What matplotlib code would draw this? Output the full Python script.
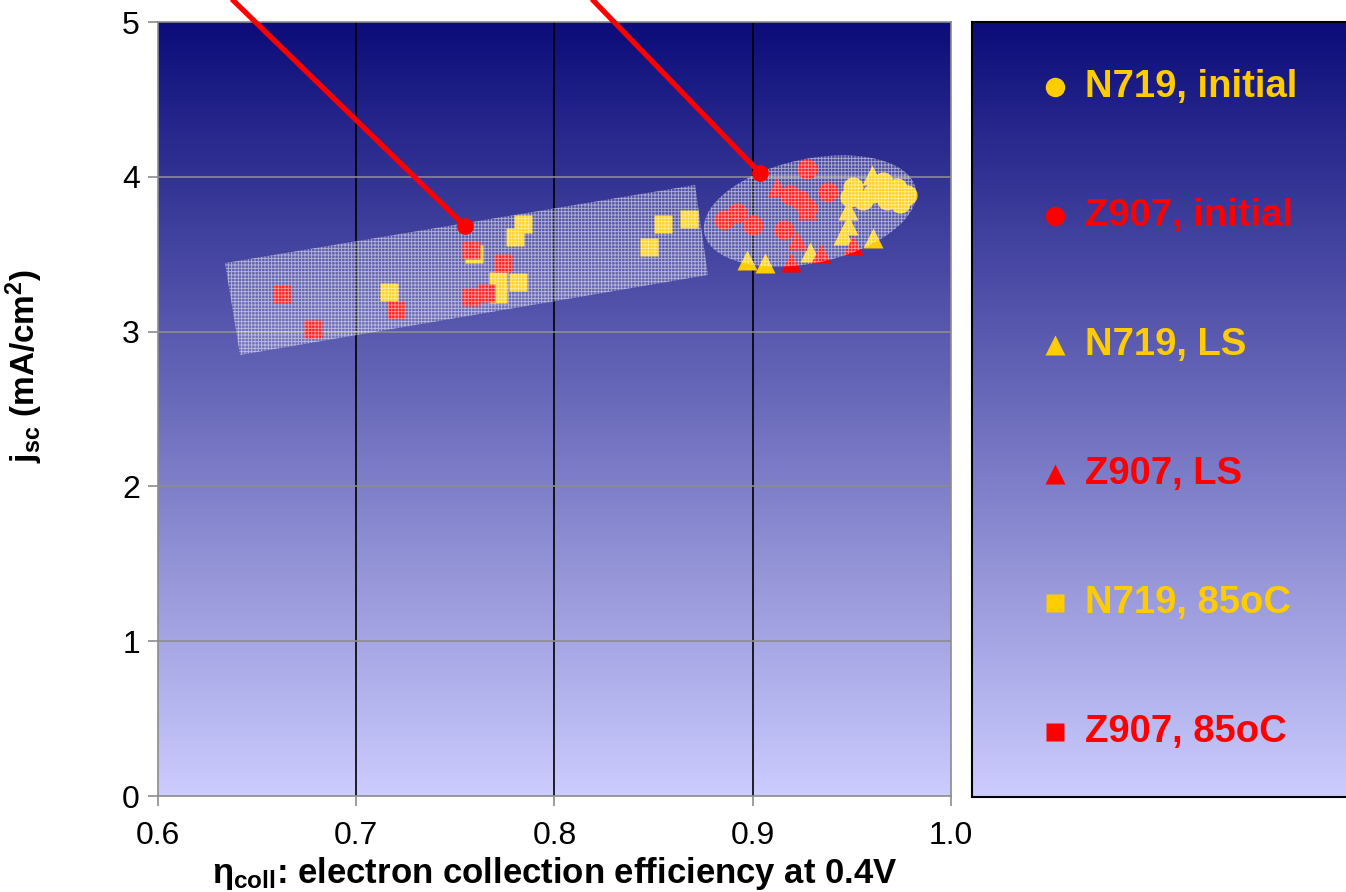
import numpy as np
import matplotlib
matplotlib.use('Agg')
import matplotlib.pyplot as plt
from matplotlib.patches import Polygon
from matplotlib.colors import LinearSegmentedColormap

plt.rcParams['font.family'] = ['Liberation Sans', 'DejaVu Sans']
plt.rcParams['mathtext.fontset'] = 'custom'
plt.rcParams['mathtext.rm'] = 'Liberation Sans:bold'
plt.rcParams['mathtext.it'] = 'Liberation Sans:bold'
plt.rcParams['mathtext.bf'] = 'Liberation Sans:bold'
plt.rcParams['hatch.linewidth'] = 0.6

# --- data ---
n719_init_x = [0.9507, 0.9490, 0.9659, 0.9726, 0.9776, 0.9608, 0.9675, 0.9743, 0.9558]
n719_init_y = [3.936, 3.870, 3.967, 3.925, 3.882, 3.893, 3.850, 3.828, 3.850]

z907_init_x = [0.9275, 0.8855, 0.8919, 0.9003, 0.9158, 0.9188, 0.9238, 0.9272, 0.9381]
z907_init_y = [4.048, 3.721, 3.764, 3.688, 3.656, 3.882, 3.850, 3.800, 3.902]

n719_ls_x = [0.8969, 0.9062, 0.9289, 0.9608, 0.9600, 0.9482, 0.9457, 0.9482]
n719_ls_y = [3.463, 3.440, 3.515, 3.603, 4.010, 3.786, 3.624, 3.688]

z907_ls_x = [0.9121, 0.9272, 0.9221, 0.9191, 0.9342, 0.9507]
z907_ls_y = [3.936, 3.786, 3.592, 3.452, 3.506, 3.559]

n719_85_x = [0.7167, 0.7594, 0.7717, 0.7817, 0.7717, 0.7801, 0.7843, 0.8478, 0.8546, 0.8678]
n719_85_y = [3.253, 3.500, 3.330, 3.320, 3.240, 3.610, 3.695, 3.548, 3.695, 3.727]

z907_85_x = [0.6624, 0.6783, 0.7199, 0.7577, 0.7739, 0.7577, 0.7653]
z907_85_y = [3.240, 3.015, 3.140, 3.527, 3.445, 3.225, 3.250]

labels = ['N719, initial', 'Z907, initial', 'N719, LS', 'Z907, LS', 'N719, 85oC', 'Z907, 85oC']

# highlighted regions and callout lines
band_x = [0.6338, 0.8709, 0.8774, 0.6414]
band_y = [3.443, 3.947, 3.366, 2.849]
ell_center = (0.9289, 3.779)
callout_start_x = [0.6363, 0.8180]
callout_start_y = [5.16, 5.16]
callout_end_x = [0.7549, 0.9037]
callout_end_y = [3.682, 4.025]

YELLOW = '#ffcc00'
RED = '#ff0000'
series = [
    (n719_init_x, n719_init_y, 'o', YELLOW, 14.5),
    (z907_init_x, z907_init_y, 'o', RED, 14.5),
    (n719_ls_x, n719_ls_y, '^', YELLOW, 15),
    (z907_ls_x, z907_ls_y, '^', RED, 15),
    (n719_85_x, n719_85_y, 's', YELLOW, 13.5),
    (z907_85_x, z907_85_y, 's', RED, 13.5),
]

grad_cmap = LinearSegmentedColormap.from_list('bg', ['#0c0c7a', '#ccccff'])
grad = np.linspace(0, 1, 256).reshape(-1, 1)

fig = plt.figure(figsize=(13.46, 8.92), dpi=100)
ax = fig.add_axes([0.11738, 0.10762, 0.58915, 0.86771])
ax.imshow(grad, cmap=grad_cmap, extent=[0.6, 1.0, 0, 5], aspect='auto',
          origin='upper', zorder=0)
ax.set_xlim(0.6, 1.0)
ax.set_ylim(0, 5)

for v in [0.7, 0.8, 0.9]:
    ax.axvline(v, color='black', lw=1.2, zorder=0.5)
for v in [1, 2, 3, 4]:
    ax.axhline(v, color='#8c8c8c', lw=1.2, zorder=0.5)

for xs, ys, m, c, ms in series:
    ax.plot(xs, ys, linestyle='none', marker=m, color=c, ms=ms, mec='none', zorder=2)

# textured band and ellipse
band = Polygon(list(zip(band_x, band_y)), closed=True, facecolor=(1, 1, 1, 0.14),
               edgecolor=(1, 1, 1, 0.55), lw=0, hatch='+++++', zorder=3)
ax.add_patch(band)

sx = 0.4 / 793.0
sy = 5.0 / 774.0
t = np.linspace(0, 2 * np.pi, 200)
a, b, th = 108, 52, np.deg2rad(12)
ex = ell_center[0] + (a * np.cos(t) * np.cos(th) - b * np.sin(t) * np.sin(th)) * sx
ey = ell_center[1] + (a * np.cos(t) * np.sin(th) + b * np.sin(t) * np.cos(th)) * sy
ell = Polygon(np.column_stack([ex, ey]), closed=True, facecolor=(1, 1, 1, 0.14),
              edgecolor=(1, 1, 1, 0.55), lw=0, hatch='+++++', zorder=3)
ax.add_patch(ell)

for i in range(2):
    ax.plot([callout_start_x[i], callout_end_x[i]], [callout_start_y[i], callout_end_y[i]],
            color=RED, lw=3.8, solid_capstyle='butt', clip_on=False, zorder=5)
    ax.plot(callout_end_x[i], callout_end_y[i], 'o', color=RED, ms=11, zorder=5)

ax.set_xticks([0.6, 0.7, 0.8, 0.9, 1.0])
ax.set_xticklabels(['0.6', '0.7', '0.8', '0.9', '1.0'])
ax.set_yticks([0, 1, 2, 3, 4, 5])
ax.tick_params(axis='both', direction='out', length=7, width=1.2, color='#8c8c8c',
               labelsize=23, pad=6)
ax.tick_params(axis='x', pad=11)
for s in ax.spines.values():
    s.set_color('#8c8c8c')
    s.set_linewidth(1.2)

ax.set_xlabel(r'$\eta_{\rm coll}$: electron collection efficiency at 0.4V',
              fontsize=25, fontweight='bold', labelpad=3)
ax.set_ylabel(r'j$_{\rm sc}$ (mA/cm$^{\rm 2}$)', fontsize=24, fontweight='bold')
ax.yaxis.set_label_coords(-0.142, 0.556)

# legend panel
lax = fig.add_axes([0.72214, 0.10650, 0.30, 0.86883])
lax.imshow(grad, cmap=grad_cmap, extent=[0, 1, 0, 1], aspect='auto', origin='upper', zorder=0)
lax.set_xlim(0, 1)
lax.set_ylim(0, 1)
lax.set_xticks([])
lax.set_yticks([])
for s in lax.spines.values():
    s.set_color('black')
    s.set_linewidth(1.5)
for i, ((xs, ys, m, c, ms), lab) in enumerate(zip(series, labels)):
    yy = 1 - (i + 0.5) / 6
    lax.plot([0.206], [yy], linestyle='none', marker=m, color=c, ms=ms - 0.5, mec='none')
    lax.text(0.279, yy, lab, color=c, fontsize=27.5, fontweight='bold', va='center', ha='left')

fig.savefig('out.png', dpi=100)
